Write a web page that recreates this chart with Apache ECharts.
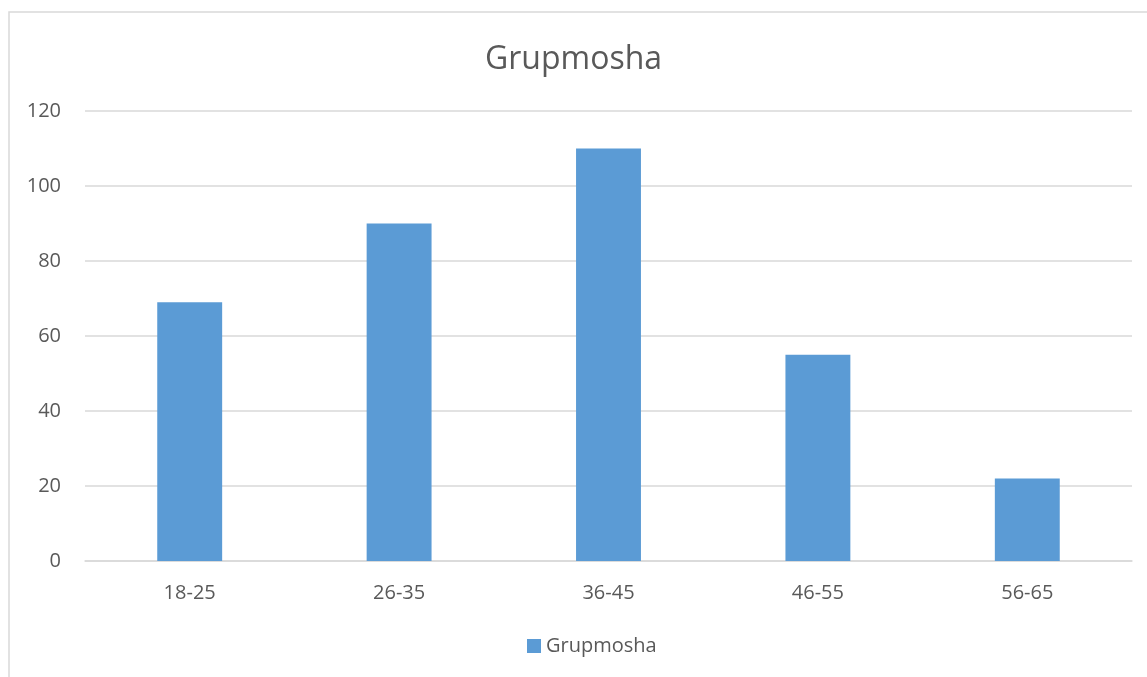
<!DOCTYPE html>
<html>
<head>
<meta charset="utf-8">
<script src="https://cdn.jsdelivr.net/npm/echarts@6/dist/echarts.min.js"></script>
<style>
  html, body { margin: 0; padding: 0; background: #fff; }
  #chart { width: 1147px; height: 677px; }
</style>
</head>
<body>
<div id="chart"></div>
<script>
// age groups and counts
const categories = ['18-25', '26-35', '36-45', '46-55', '56-65'];
const values = [69, 90, 110, 55, 22];
const seriesName = 'Grupmosha';

const chart = echarts.init(document.getElementById('chart'));
const fontFamily = '"Open Sans", "Noto Sans", sans-serif';

chart.setOption({
    animation: false,
    backgroundColor: '#fff',
    textStyle: { fontFamily: fontFamily },
    // light frame round the chart area (top and left edges visible)
    graphic: [{
        type: 'rect',
        shape: { x: 9, y: 12, width: 1160, height: 700 },
        style: { fill: 'none', stroke: '#d9d9d9', lineWidth: 1.5 },
        silent: true
    }],
    title: {
        text: seriesName,
        left: 'center',
        top: 39,
        textStyle: { color: '#595959', fontSize: 32, fontWeight: 'normal', fontFamily: fontFamily }
    },
    legend: {
        data: [seriesName],
        left: 522,
        top: 631,
        icon: 'rect',
        itemWidth: 14,
        itemHeight: 14,
        itemGap: 6,
        textStyle: { color: '#595959', fontSize: 20, fontFamily: fontFamily }
    },
    grid: {
        left: 85,
        right: 15,
        top: 111,
        bottom: 116,
        containLabel: false
    },
    xAxis: {
        type: 'category',
        data: categories,
        axisLine: { lineStyle: { color: '#d9d9d9', width: 1.5 } },
        axisTick: { show: false },
        axisLabel: { color: '#595959', fontSize: 20, margin: 22, fontFamily: fontFamily }
    },
    yAxis: {
        type: 'value',
        min: 0,
        max: 120,
        interval: 20,
        axisLine: { show: false },
        axisTick: { show: false },
        splitLine: { lineStyle: { color: '#d9d9d9', width: 1.5 } },
        axisLabel: { color: '#595959', fontSize: 20, margin: 24, fontFamily: fontFamily }
    },
    series: [{
        name: seriesName,
        type: 'bar',
        data: values,
        barWidth: '31%',
        itemStyle: { color: '#5b9bd5' }
    }]
});
</script>
</body>
</html>
